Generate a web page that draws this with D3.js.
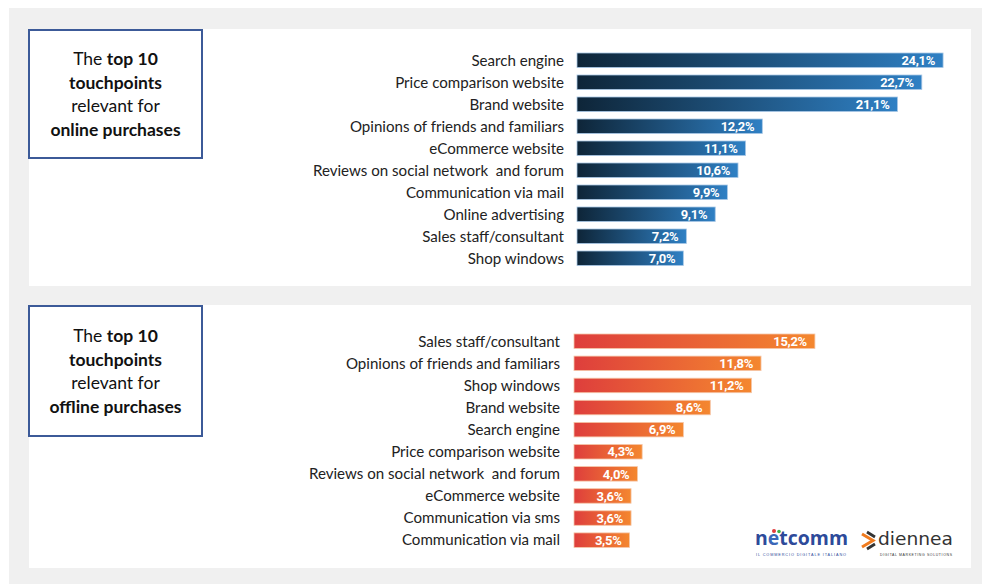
<!DOCTYPE html>
<html>
<head>
<meta charset="utf-8">
<script src="https://cdn.jsdelivr.net/npm/d3@7"></script>
<style>
  html, body { margin: 0; padding: 0; background: #ffffff; }
  svg { display: block; }
  text { white-space: pre; }
</style>
</head>
<body>
<svg id="chart" width="982" height="584"></svg>
<script>
// Touchpoints relevant for online purchases (%)
const onlineCats = [
  "Search engine",
  "Price comparison website",
  "Brand website",
  "Opinions of friends and familiars",
  "eCommerce website",
  "Reviews on social network  and forum",
  "Communication via mail",
  "Online advertising",
  "Sales staff/consultant",
  "Shop windows"
];
const onlineVals = [24.1, 22.7, 21.1, 12.2, 11.1, 10.6, 9.9, 9.1, 7.2, 7.0];

// Touchpoints relevant for offline purchases (%)
const offlineCats = [
  "Sales staff/consultant",
  "Opinions of friends and familiars",
  "Shop windows",
  "Brand website",
  "Search engine",
  "Price comparison website",
  "Reviews on social network  and forum",
  "eCommerce website",
  "Communication via sms",
  "Communication via mail"
];
const offlineVals = [15.2, 11.8, 11.2, 8.6, 6.9, 4.3, 4.0, 3.6, 3.6, 3.5];

const svg = d3.select("#chart");
const fmt = v => d3.format(".1f")(v).replace(".", ",") + "%";
const labelFont = "Lato, 'Open Sans', sans-serif";

// Page background
svg.append("rect").attr("x", 9).attr("y", 8).attr("width", 973).attr("height", 576).attr("fill", "#f0f0f0");

const defs = svg.append("defs");
const gOnline = defs.append("linearGradient").attr("id", "gradOnline")
  .attr("x1", "0%").attr("x2", "100%").attr("y1", "0%").attr("y2", "0%");
gOnline.append("stop").attr("offset", "0%").attr("stop-color", "#0e2538");
gOnline.append("stop").attr("offset", "100%").attr("stop-color", "#2f80c4");
const gOffline = defs.append("linearGradient").attr("id", "gradOffline")
  .attr("x1", "0%").attr("x2", "100%").attr("y1", "0%").attr("y2", "0%");
gOffline.append("stop").attr("offset", "0%").attr("stop-color", "#de3e3c");
gOffline.append("stop").attr("offset", "100%").attr("stop-color", "#f4872f");

const panels = [
  { cats: onlineCats, vals: onlineVals, title: "online purchases", top: 29, bottom: 286,
    box: [28, 29, 175, 130], x0: 577, pxPerUnit: 15.19, labelX: 564, y0: 53, step: 22.0, bar: 14.5,
    grad: "url(#gradOnline)", edge: "#a9c8e6" },
  { cats: offlineCats, vals: offlineVals, title: "offline purchases", top: 305, bottom: 568,
    box: [28, 305, 175, 132], x0: 574, pxPerUnit: 15.85, labelX: 560, y0: 334, step: 22.1, bar: 14.5,
    grad: "url(#gradOffline)", edge: "#f6c6a8" }
];

panels.forEach(p => {
  const g = svg.append("g");
  g.append("rect").attr("x", 29).attr("y", p.top).attr("width", 942).attr("height", p.bottom - p.top)
    .attr("fill", "#ffffff");

  // Heading box
  const [bx, by, bw, bh] = p.box;
  g.append("rect").attr("x", bx + 1).attr("y", by + 1).attr("width", bw - 2).attr("height", bh - 2)
    .attr("fill", "#ffffff").attr("stroke", "#3c5a98").attr("stroke-width", 2);
  const cx = bx + bw / 2;
  const lines = [
    [["The ", 400], ["top 10", 700]],
    [["touchpoints", 700]],
    [["relevant for", 400]],
    [[p.title, 700]]
  ];
  const lineTop = by + (bh - 130) / 2 + 36;
  lines.forEach((parts, i) => {
    const t = g.append("text").attr("x", cx).attr("y", lineTop + i * 23.5)
      .attr("text-anchor", "middle").attr("font-family", labelFont)
      .attr("font-size", 17.5).attr("fill", "#111");
    parts.forEach(([s, w]) => t.append("tspan").attr("font-weight", w).text(s));
  });

  // Scales
  const n = p.cats.length;
  const x = d3.scaleLinear().domain([0, 1]).range([p.x0, p.x0 + p.pxPerUnit]);
  const pad = 1 - p.bar / p.step;
  const y = d3.scaleBand().domain(d3.range(n))
    .range([p.y0, p.y0 + p.step * (n - 1) + p.bar]).paddingInner(pad).paddingOuter(0);

  const rows = g.selectAll("g.row").data(p.vals.map((v, i) => ({ v, c: p.cats[i], i })))
    .join("g").attr("class", "row");

  rows.append("rect")
    .attr("x", x(0)).attr("y", d => y(d.i))
    .attr("width", d => x(d.v) - x(0)).attr("height", y.bandwidth())
    .attr("fill", p.grad).attr("stroke", p.edge).attr("stroke-width", 0.8);

  rows.append("text")
    .attr("x", p.labelX).attr("y", d => y(d.i) + y.bandwidth() / 2)
    .attr("dy", "0.35em").attr("text-anchor", "end")
    .attr("font-family", labelFont).attr("font-size", 15.1).attr("fill", "#222")
    .text(d => d.c);

  rows.append("text")
    .attr("x", d => x(d.v) - 8).attr("y", d => y(d.i) + y.bandwidth() / 2)
    .attr("dy", "0.36em").attr("text-anchor", "end")
    .attr("font-family", "'Liberation Sans Narrow', 'Roboto', sans-serif").attr("font-weight", 700)
    .attr("font-size", 13).attr("letter-spacing", -0.3).attr("fill", "#ffffff")
    .text(d => fmt(d.v));
});

// Sponsor marks
const logo = svg.append("g");
const nt = logo.append("text").attr("x", 755).attr("y", 545)
  .attr("font-family", "'Open Sans', Lato, sans-serif").attr("font-weight", 700)
  .attr("font-size", 19).attr("fill", "#2d4a9a").attr("textLength", 93).attr("lengthAdjust", "spacingAndGlyphs");
nt.append("tspan").text("n");
nt.append("tspan").attr("fill", "#3a67b8").text("e");
nt.append("tspan").text("tcomm");
logo.append("circle").attr("cx", 774).attr("cy", 531).attr("r", 2).attr("fill", "#e03c3c");
logo.append("circle").attr("cx", 779).attr("cy", 531.5).attr("r", 1.8).attr("fill", "#3fae49");
logo.append("text").attr("x", 756).attr("y", 556)
  .attr("font-family", "'Liberation Sans', sans-serif").attr("font-size", 3.8)
  .attr("fill", "#2d4a9a").attr("textLength", 90).attr("lengthAdjust", "spacing")
  .text("IL COMMERCIO DIGITALE ITALIANO");

// diennea mark: two chevrons
logo.append("path").attr("d", "M862,534 L873,540.5 L862,547").attr("fill", "none")
  .attr("stroke", "#f07b1e").attr("stroke-width", 3);
logo.append("path").attr("d", "M867,532 L875,537 M867,549 L875,544").attr("fill", "none")
  .attr("stroke", "#333").attr("stroke-width", 2.8);
logo.append("text").attr("x", 878).attr("y", 545)
  .attr("font-family", "'DejaVu Sans', sans-serif").attr("font-size", 18)
  .attr("fill", "#333").attr("textLength", 75).attr("lengthAdjust", "spacingAndGlyphs").text("diennea");
logo.append("text").attr("x", 880).attr("y", 556)
  .attr("font-family", "'Liberation Sans', sans-serif").attr("font-size", 3.5)
  .attr("fill", "#333").attr("textLength", 72).attr("lengthAdjust", "spacing")
  .text("DIGITAL MARKETING SOLUTIONS");
</script>
</body>
</html>
